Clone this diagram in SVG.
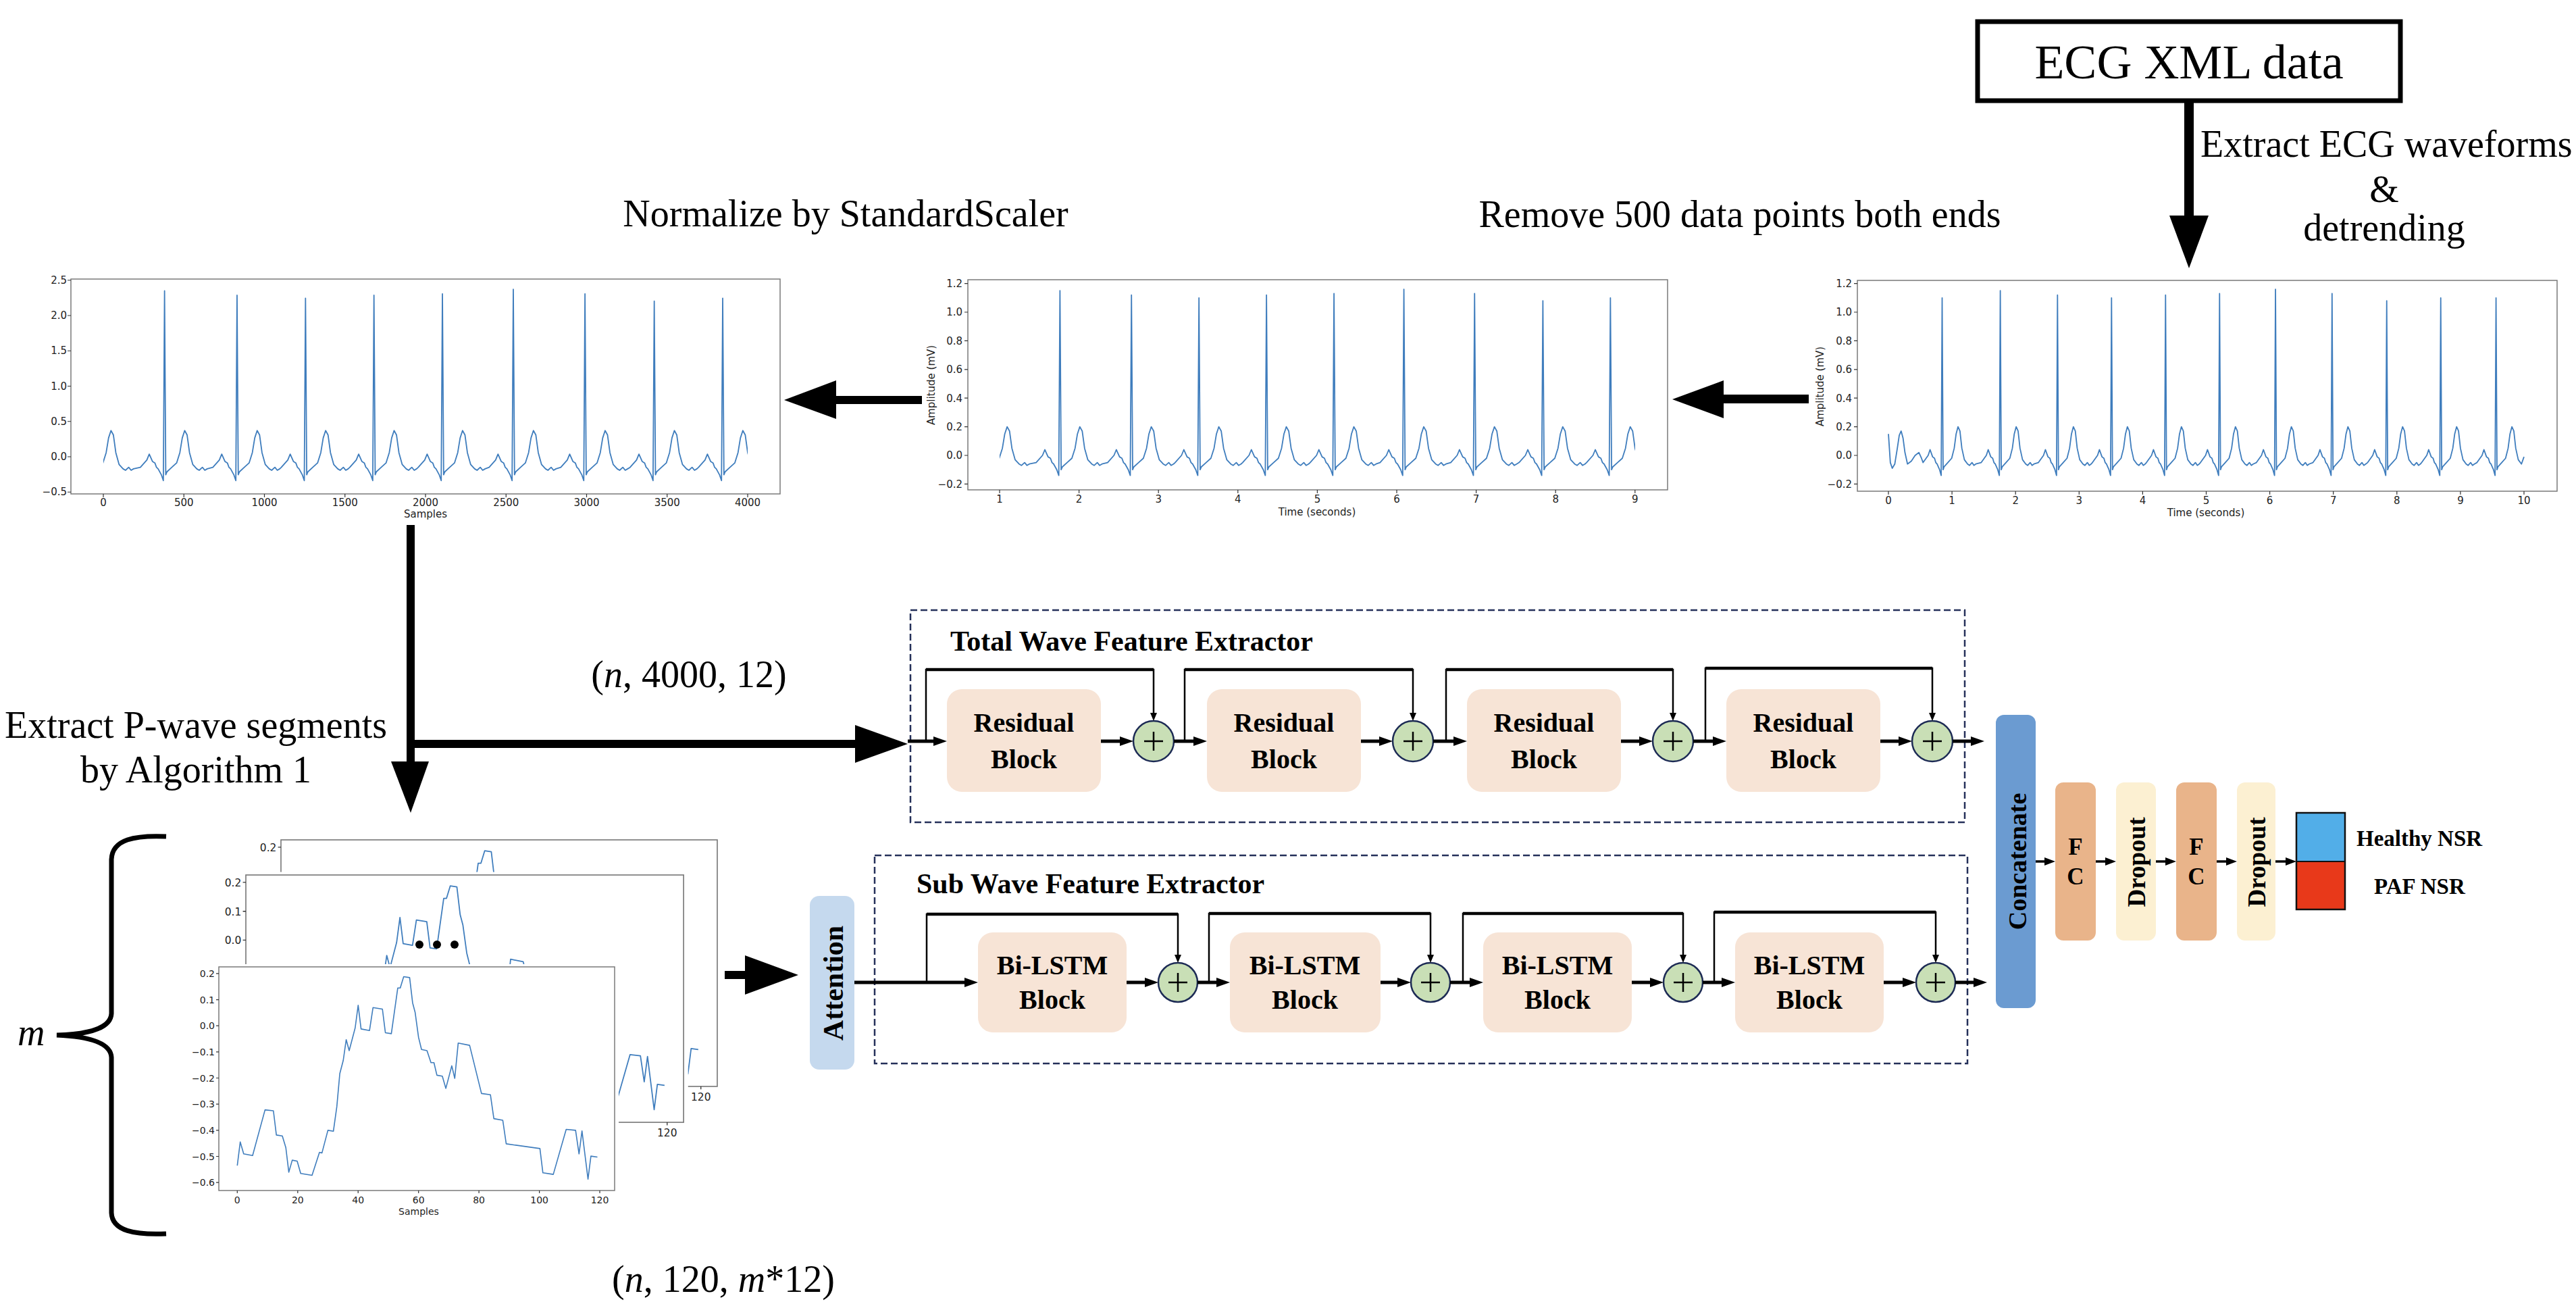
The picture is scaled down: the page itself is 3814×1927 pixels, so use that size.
<svg xmlns="http://www.w3.org/2000/svg" xmlns:xlink="http://www.w3.org/1999/xlink" width="3814" height="1927" viewBox="0 0 3814 1927">
<style>
.ann{font-family:'Liberation Serif','Times New Roman',serif;font-size:56px;fill:#000}
.bt{font-family:'Liberation Serif','Times New Roman',serif;font-weight:bold;fill:#000}
.tk{font-family:'DejaVu Sans',sans-serif;font-size:15px;fill:#222}
.tks{font-family:'DejaVu Sans',sans-serif;font-size:14px;fill:#222}
.ax{fill:none;stroke:#7a7a7a;stroke-width:1.5}
.tm{fill:none;stroke:#333;stroke-width:1.2}
.blk{fill:#f7e4d6}
.pc{fill:#c9dfb6;stroke:#1d2b55;stroke-width:2.5}
.pl{stroke:#000;stroke-width:2.5}
.dash{fill:none;stroke:#25305a;stroke-width:2.5;stroke-dasharray:10 5}
.ml{fill:none;stroke:#000;stroke-width:5}
.sk{fill:none;stroke:#000;stroke-width:2.5}
.skt{fill:none;stroke:#000;stroke-width:4.5}
.sm{fill:none;stroke:#000;stroke-width:3.5}
.big{fill:#000}
</style>
<defs>
<marker id="ah" markerUnits="userSpaceOnUse" viewBox="0 0 20 14" markerWidth="20" markerHeight="14" refX="0" refY="7" orient="auto"><path d="M0,0 L20,7 L0,14 z" fill="#000"/></marker>
<marker id="as" markerUnits="userSpaceOnUse" viewBox="0 0 12 10" markerWidth="12" markerHeight="10" refX="0" refY="5" orient="auto"><path d="M0,0 L12,5 L0,10 z" fill="#000"/></marker>
<marker id="am" markerUnits="userSpaceOnUse" viewBox="0 0 16 12" markerWidth="16" markerHeight="12" refX="0" refY="6" orient="auto"><path d="M0,0 L16,6 L0,12 z" fill="#000"/></marker>
<path id="ecg" fill="none" stroke="#3f7dbd" stroke-width="1.8" stroke-linejoin="round" vector-effect="non-scaling-stroke" d="M0,-15 L3,5 6,9 10,6 14,-5 17,-14 20,-17 23,-12 26,-2 30,6 36,4 42,0 48,-2 52,2 54.5,5
l8,-5 3,-4 4,5 3,1 2,3 2,1 4,4 2.5,4 1.5,-124 1.5,120 1.5,-2 6,-3 6,-3 4,-7 3,-10 3,-5 3,3 3,12 4,8 5,3 3,1 4,-2 3,2 3,-1 8.5,-1
l8,-5 3,-4 4,5 3,1 2,3 2,1 4,4 2.5,4 1.5,-129 1.5,125 1.5,-2 6,-3 6,-3 4,-7 3,-10 3,-5 3,3 3,12 4,8 5,3 3,1 4,-2 3,2 3,-1 7,-1
l8,-5 3,-4 4,5 3,1 2,3 2,1 4,4 2.5,4 1.5,-126 1.5,122 1.5,-2 6,-3 6,-3 4,-7 3,-10 3,-5 3,3 3,12 4,8 5,3 3,1 4,-2 3,2 3,-1 2,-1
l8,-5 3,-4 4,5 3,1 2,3 2,1 4,4 2.5,4 1.5,-124 1.5,120 1.5,-2 6,-3 6,-3 4,-7 3,-10 3,-5 3,3 3,12 4,8 5,3 3,1 4,-2 3,2 3,-1 2,-1
l8,-5 3,-4 4,5 3,1 2,3 2,1 4,4 2.5,4 1.5,-126 1.5,122 1.5,-2 6,-3 6,-3 4,-7 3,-10 3,-5 3,3 3,12 4,8 5,3 3,1 4,-2 3,2 3,-1 2,-1
l8,-5 3,-4 4,5 3,1 2,3 2,1 4,4 2.5,4 1.5,-127 1.5,123 1.5,-2 6,-3 6,-3 4,-7 3,-10 3,-5 3,3 3,12 4,8 5,3 3,1 4,-2 3,2 3,-1 5,-1
l8,-5 3,-4 4,5 3,1 2,3 2,1 4,4 2.5,4 1.5,-130 1.5,126 1.5,-2 6,-3 6,-3 4,-7 3,-10 3,-5 3,3 3,12 4,8 5,3 3,1 4,-2 3,2 3,-1 6,-1
l8,-5 3,-4 4,5 3,1 2,3 2,1 4,4 2.5,4 1.5,-127 1.5,123 1.5,-2 6,-3 6,-3 4,-7 3,-10 3,-5 3,3 3,12 4,8 5,3 3,1 4,-2 3,2 3,-1 3,-1
l8,-5 3,-4 4,5 3,1 2,3 2,1 4,4 2.5,4 1.5,-122 1.5,118 1.5,-2 6,-3 6,-3 4,-7 3,-10 3,-5 3,3 3,12 4,8 5,3 3,1 4,-2 3,2 3,-1 2,-1
l8,-5 3,-4 4,5 3,1 2,3 2,1 4,4 2.5,4 1.5,-124 1.5,120 1.5,-2 6,-3 6,-3 4,-7 3,-10 3,-5 3,3 3,12 4,8 5,3 3,1 4,-2 3,2 3,-1 4,-1
l8,-5 3,-4 4,5 3,1 2,3 2,1 4,4 2.5,4 1.5,-124 1.5,120 1.5,-2 6,-3 6,-3 4,-7 3,-10 3,-5 3,3 3,12 4,8 5,3 4,-5"/>
<clipPath id="cm" clipPathUnits="userSpaceOnUse"><rect x="1480" y="400" width="941" height="330"/></clipPath>
<clipPath id="cl" clipPathUnits="userSpaceOnUse"><rect x="153" y="400" width="954" height="330"/></clipPath>
<g id="pfig">
<rect x="282" y="1427" width="634" height="378" fill="#fff"/>
<rect class="ax" x="324" y="1431" width="586" height="331"/>
<path class="tm" d="M324,1440.9h-4M324,1479.6h-4M324,1518.2h-4M324,1556.9h-4M324,1595.5h-4M324,1634.2h-4M324,1672.8h-4M324,1711.5h-4M324,1750.1h-4M351.3,1762v4M440.8,1762v4M530.2,1762v4M619.7,1762v4M709.1,1762v4M798.6,1762v4M888,1762v4"/>
<g class="tks" text-anchor="end">
<text x="318" y="1446">0.2</text><text x="318" y="1485">0.1</text><text x="318" y="1523">0.0</text><text x="318" y="1562">−0.1</text><text x="318" y="1601">−0.2</text><text x="318" y="1639">−0.3</text><text x="318" y="1678">−0.4</text><text x="318" y="1717">−0.5</text><text x="318" y="1755">−0.6</text>
</g>
<g class="tks" text-anchor="middle">
<text x="351.3" y="1781">0</text><text x="440.8" y="1781">20</text><text x="530.2" y="1781">40</text><text x="619.7" y="1781">60</text><text x="709.1" y="1781">80</text><text x="798.6" y="1781">100</text><text x="888" y="1781">120</text>
<text x="620" y="1798">Samples</text>
</g>
<polyline fill="none" stroke="#3f7dbd" stroke-width="1.6" stroke-linejoin="round" points="351.3,1725.1 355.7,1690.1 360.8,1707.8 374,1710.2 392.4,1642.6 404.8,1644 409.2,1679.9 418,1681.3 423.2,1698.5 427.6,1734.9 432.7,1717.1 440,1718.5 445.2,1736.7 462,1739.5 473,1705.5 476.7,1706.4 485.5,1672.9 493.6,1674.3 498.7,1637.9 503.1,1589 508.2,1569.5 512.6,1538.7 517,1555 525.8,1521.5 530.3,1487.9 534.6,1522.9 547.1,1525.2 552.3,1491.2 566.2,1493.5 570.6,1528.5 579.4,1529.9 588.9,1462.3 592.6,1462.3 597.7,1445.5 606.5,1446.9 610.9,1484.2 614.6,1498.2 619.7,1535.4 624.1,1553.2 632.2,1555 638.1,1572.7 642.5,1572.7 646.9,1591.4 654.9,1592.8 660.1,1610.9 668.9,1577.4 673.3,1596 678.4,1543.8 695.3,1547.1 712.9,1618.4 726.1,1620.2 731.2,1655.6 744.4,1658 749.5,1692.9 799.4,1699.9 803.8,1735.8 819.2,1738.1 838.3,1671.5 852.2,1672.9 857.3,1707.8 861.7,1673.8 870.6,1745.1 874.9,1711.1 884.5,1712.5"/>
</g>
</defs>
<rect width="3814" height="1927" fill="#fff"/>

<!-- ECG XML data -->
<g id="ecg-xml">
<rect x="2928" y="32" width="626" height="117" fill="#fff" stroke="#000" stroke-width="7"/>
<text class="ann" x="3241" y="116" text-anchor="middle" style="font-size:72px">ECG XML data</text>
</g>

<!-- Raw ECG plot (right) -->
<g id="plot-raw">
<rect class="ax" x="2750" y="415" width="1036" height="312"/>
<path class="tm" d="M2750,419.6h-5M2750,462h-5M2750,504.4h-5M2750,546.8h-5M2750,589.2h-5M2750,631.6h-5M2750,674h-5M2750,716.4h-5M2796,727v5M2890.1,727v5M2984.2,727v5M3078.3,727v5M3172.4,727v5M3266.5,727v5M3360.6,727v5M3454.7,727v5M3548.8,727v5M3642.9,727v5M3737,727v5"/>
<g class="tk" text-anchor="end">
<text x="2742" y="425">1.2</text><text x="2742" y="467">1.0</text><text x="2742" y="510">0.8</text><text x="2742" y="552">0.6</text><text x="2742" y="595">0.4</text><text x="2742" y="637">0.2</text><text x="2742" y="679">0.0</text><text x="2742" y="722">−0.2</text>
</g>
<g class="tk" text-anchor="middle">
<text x="2796" y="746">0</text><text x="2890.1" y="746">1</text><text x="2984.2" y="746">2</text><text x="3078.3" y="746">3</text><text x="3172.4" y="746">4</text><text x="3266.5" y="746">5</text><text x="3360.6" y="746">6</text><text x="3454.7" y="746">7</text><text x="3548.8" y="746">8</text><text x="3642.9" y="746">9</text><text x="3737" y="746">10</text>
<text x="3266" y="764">Time (seconds)</text>
<text transform="translate(2700,572) rotate(-90)">Amplitude (mV)</text>
</g>
<use xlink:href="#ecg" href="#ecg" transform="translate(2796,674) scale(0.941,2.12)"/>
</g>

<!-- Trimmed ECG plot (middle) -->
<g id="plot-trim">
<rect class="ax" x="1433" y="414" width="1036" height="311"/>
<path class="tm" d="M1433,419.6h-5M1433,462h-5M1433,504.4h-5M1433,546.8h-5M1433,589.2h-5M1433,631.6h-5M1433,674h-5M1433,716.4h-5M1480,725v5M1597.6,725v5M1715.2,725v5M1832.8,725v5M1950.4,725v5M2068,725v5M2185.6,725v5M2303.2,725v5M2420.8,725v5"/>
<g class="tk" text-anchor="end">
<text x="1425" y="425">1.2</text><text x="1425" y="467">1.0</text><text x="1425" y="510">0.8</text><text x="1425" y="552">0.6</text><text x="1425" y="595">0.4</text><text x="1425" y="637">0.2</text><text x="1425" y="679">0.0</text><text x="1425" y="722">−0.2</text>
</g>
<g class="tk" text-anchor="middle">
<text x="1480" y="744">1</text><text x="1597.6" y="744">2</text><text x="1715.2" y="744">3</text><text x="1832.8" y="744">4</text><text x="1950.4" y="744">5</text><text x="2068" y="744">6</text><text x="2185.6" y="744">7</text><text x="2303.2" y="744">8</text><text x="2420.8" y="744">9</text>
<text x="1950" y="763">Time (seconds)</text>
<text transform="translate(1384,570) rotate(-90)">Amplitude (mV)</text>
</g>
<g clip-path="url(#cm)"><use xlink:href="#ecg" href="#ecg" transform="translate(1362.4,674) scale(1.176,2.12)"/></g>
</g>

<!-- Normalized plot (left) -->
<g id="plot-norm">
<rect class="ax" x="105" y="413" width="1050" height="318"/>
<path class="tm" d="M105,414.75h-5M105,467h-5M105,519.25h-5M105,571.5h-5M105,623.75h-5M105,676h-5M105,728.25h-5M153,731v5M272.25,731v5M391.5,731v5M510.75,731v5M630,731v5M749.25,731v5M868.5,731v5M987.75,731v5M1107,731v5"/>
<g class="tk" text-anchor="end">
<text x="99" y="420">2.5</text><text x="99" y="472">2.0</text><text x="99" y="524">1.5</text><text x="99" y="577">1.0</text><text x="99" y="629">0.5</text><text x="99" y="681">0.0</text><text x="99" y="733">−0.5</text>
</g>
<g class="tk" text-anchor="middle">
<text x="153" y="749">0</text><text x="272.25" y="749">500</text><text x="391.5" y="749">1000</text><text x="510.75" y="749">1500</text><text x="630" y="749">2000</text><text x="749.25" y="749">2500</text><text x="868.5" y="749">3000</text><text x="987.75" y="749">3500</text><text x="1107" y="749">4000</text>
<text x="630" y="766">Samples</text>
</g>
<g clip-path="url(#cl)"><use xlink:href="#ecg" href="#ecg" transform="translate(33.75,680.8) scale(1.1925,2.177)"/></g>
</g>

<!-- P-wave segment stack -->
<g id="pwave-stack">
<use xlink:href="#pfig" href="#pfig" transform="translate(58.8,-334.5) scale(1.1024)"/>
<use xlink:href="#pfig" href="#pfig" transform="translate(5.66,-287.7) scale(1.106)"/>
<circle cx="621" cy="1398" r="6" fill="#000"/>
<circle cx="647" cy="1398" r="6" fill="#000"/>
<circle cx="673" cy="1398" r="6" fill="#000"/>
<use xlink:href="#pfig" href="#pfig"/>
<path d="M246,1238 C200,1236 166,1242 165,1272 L165,1500 C164,1522 130,1531 84,1532 C130,1534 164,1543 165,1565 L165,1795 C166,1822 200,1828 246,1826" fill="none" stroke="#000" stroke-width="7"/>
<text class="ann" x="26" y="1547" font-style="italic">m</text>
</g>

<!-- Attention -->
<g id="attention">
<rect x="1199" y="1326" width="66" height="257" rx="14" fill="#c5d9ee"/>
<text class="bt" transform="translate(1248,1455) rotate(-90)" text-anchor="middle" style="font-size:42px">Attention</text>
</g>

<!-- Total Wave Feature Extractor -->
<g id="total-extractor">
<rect class="dash" x="1348" y="903" width="1561" height="314"/>
<text class="bt" x="1407" y="963" style="font-size:42px">Total Wave Feature Extractor</text>
<g id="res1"><rect class="blk" x="1402" y="1020" width="228" height="152" rx="22"/><text class="bt" x="1516" y="1083" text-anchor="middle" style="font-size:40px">Residual</text><text class="bt" x="1516" y="1137" text-anchor="middle" style="font-size:40px">Block</text></g>
<g id="res2"><rect class="blk" x="1787" y="1020" width="228" height="152" rx="22"/><text class="bt" x="1901" y="1083" text-anchor="middle" style="font-size:40px">Residual</text><text class="bt" x="1901" y="1137" text-anchor="middle" style="font-size:40px">Block</text></g>
<g id="res3"><rect class="blk" x="2172" y="1020" width="228" height="152" rx="22"/><text class="bt" x="2286" y="1083" text-anchor="middle" style="font-size:40px">Residual</text><text class="bt" x="2286" y="1137" text-anchor="middle" style="font-size:40px">Block</text></g>
<g id="res4"><rect class="blk" x="2556" y="1020" width="228" height="152" rx="22"/><text class="bt" x="2670" y="1083" text-anchor="middle" style="font-size:40px">Residual</text><text class="bt" x="2670" y="1137" text-anchor="middle" style="font-size:40px">Block</text></g>
<g id="add1"><circle class="pc" cx="1708" cy="1097" r="30"/><path class="pl" d="M1694,1097h28M1708,1083v28"/></g>
<g id="add2"><circle class="pc" cx="2092" cy="1097" r="30"/><path class="pl" d="M2078,1097h28M2092,1083v28"/></g>
<g id="add3"><circle class="pc" cx="2477" cy="1097" r="30"/><path class="pl" d="M2463,1097h28M2477,1083v28"/></g>
<g id="add4"><circle class="pc" cx="2861" cy="1097" r="30"/><path class="pl" d="M2847,1097h28M2861,1083v28"/></g>
</g>

<!-- Sub Wave Feature Extractor -->
<g id="sub-extractor">
<rect class="dash" x="1295" y="1266" width="1618" height="308"/>
<text class="bt" x="1357" y="1322" style="font-size:42px">Sub Wave Feature Extractor</text>
<g id="lstm1"><rect class="blk" x="1448" y="1380" width="220" height="148" rx="22"/><text class="bt" x="1558" y="1442" text-anchor="middle" style="font-size:40px">Bi-LSTM</text><text class="bt" x="1558" y="1493" text-anchor="middle" style="font-size:40px">Block</text></g>
<g id="lstm2"><rect class="blk" x="1821" y="1380" width="223" height="148" rx="22"/><text class="bt" x="1932" y="1442" text-anchor="middle" style="font-size:40px">Bi-LSTM</text><text class="bt" x="1932" y="1493" text-anchor="middle" style="font-size:40px">Block</text></g>
<g id="lstm3"><rect class="blk" x="2196" y="1380" width="220" height="148" rx="22"/><text class="bt" x="2306" y="1442" text-anchor="middle" style="font-size:40px">Bi-LSTM</text><text class="bt" x="2306" y="1493" text-anchor="middle" style="font-size:40px">Block</text></g>
<g id="lstm4"><rect class="blk" x="2569" y="1380" width="220" height="148" rx="22"/><text class="bt" x="2679" y="1442" text-anchor="middle" style="font-size:40px">Bi-LSTM</text><text class="bt" x="2679" y="1493" text-anchor="middle" style="font-size:40px">Block</text></g>
<g id="add5"><circle class="pc" cx="1744" cy="1454" r="29"/><path class="pl" d="M1730,1454h28M1744,1440v28"/></g>
<g id="add6"><circle class="pc" cx="2118" cy="1454" r="29"/><path class="pl" d="M2104,1454h28M2118,1440v28"/></g>
<g id="add7"><circle class="pc" cx="2492" cy="1454" r="29"/><path class="pl" d="M2478,1454h28M2492,1440v28"/></g>
<g id="add8"><circle class="pc" cx="2866" cy="1454" r="29"/><path class="pl" d="M2852,1454h28M2866,1440v28"/></g>
</g>

<!-- Classifier head -->
<g id="concatenate">
<rect x="2955" y="1058" width="59" height="434" rx="12" fill="#6b9bd1"/>
<text class="bt" transform="translate(3000,1275) rotate(-90)" text-anchor="middle" style="font-size:38px">Concatenate</text>
</g>
<g id="fc1"><rect x="3043" y="1158" width="60" height="234" rx="12" fill="#e9b48a"/><text class="bt" x="3073" y="1265" text-anchor="middle" style="font-size:35px">F</text><text class="bt" x="3073" y="1309" text-anchor="middle" style="font-size:35px">C</text></g>
<g id="dropout1"><rect x="3133" y="1158" width="59" height="234" rx="12" fill="#fcf0d2"/><text class="bt" transform="translate(3176,1276) rotate(-90)" text-anchor="middle" style="font-size:37px">Dropout</text></g>
<g id="fc2"><rect x="3222" y="1158" width="60" height="234" rx="12" fill="#e9b48a"/><text class="bt" x="3252" y="1265" text-anchor="middle" style="font-size:35px">F</text><text class="bt" x="3252" y="1309" text-anchor="middle" style="font-size:35px">C</text></g>
<g id="dropout2"><rect x="3312" y="1158" width="57" height="234" rx="12" fill="#fcf0d2"/><text class="bt" transform="translate(3354,1276) rotate(-90)" text-anchor="middle" style="font-size:37px">Dropout</text></g>
<g id="output">
<rect x="3400" y="1203" width="72" height="72" fill="#52aee8"/>
<rect x="3400" y="1275" width="72" height="71" fill="#e8391a"/>
<rect x="3400" y="1203" width="72" height="143" fill="none" stroke="#111" stroke-width="2.5"/>
<line x1="3400" y1="1275" x2="3472" y2="1275" stroke="#111" stroke-width="2"/>
<text class="bt" x="3489" y="1252" style="font-size:33px">Healthy NSR</text>
<text class="bt" x="3515" y="1323" style="font-size:33px">PAF NSR</text>
</g>

<!-- Connectors -->
<g id="connectors">
<!-- big pipeline arrows -->
<rect class="big" x="3234" y="150" width="14" height="170"/>
<polygon class="big" points="3212,319 3270,319 3241,397"/>
<rect class="big" x="2552" y="584" width="126" height="13"/>
<polygon class="big" points="2552,563 2552,619 2476,591"/>
<rect class="big" x="1238" y="586" width="127" height="12"/>
<polygon class="big" points="1238,563 1238,620 1161,592"/>
<rect class="big" x="602" y="777" width="12" height="351"/>
<polygon class="big" points="579,1127 635,1127 608,1203"/>
<rect class="big" x="602" y="1095" width="665" height="12"/>
<polygon class="big" points="1266,1073 1266,1129 1344,1101"/>
<rect class="big" x="1073" y="1437" width="31" height="12"/>
<polygon class="big" points="1103,1414 1103,1472 1182,1443"/>
<!-- total wave main line -->
<g marker-end="url(#ah)">
<line class="ml" x1="1344" y1="1097" x2="1382" y2="1097"/>
<line class="ml" x1="1630" y1="1097" x2="1658" y2="1097"/>
<line class="ml" x1="1738" y1="1097" x2="1767" y2="1097"/>
<line class="ml" x1="2015" y1="1097" x2="2042" y2="1097"/>
<line class="ml" x1="2122" y1="1097" x2="2152" y2="1097"/>
<line class="ml" x1="2400" y1="1097" x2="2427" y2="1097"/>
<line class="ml" x1="2507" y1="1097" x2="2536" y2="1097"/>
<line class="ml" x1="2784" y1="1097" x2="2811" y2="1097"/>
<line class="ml" x1="2891" y1="1097" x2="2918" y2="1097"/>
</g>
<g marker-end="url(#as)">
<path class="sk" d="M1371,1097V991H1708V1055"/>
<path class="sk" d="M1754,1097V991H2092V1055"/>
<path class="sk" d="M2141,1097V991H2477V1055"/>
<path class="sk" d="M2525,1097V989H2861V1055"/>
</g>
<path class="skt" d="M1371,991H1708M1754,991H2092M2141,991H2477M2525,989H2861"/>
<!-- sub wave main line -->
<g marker-end="url(#ah)">
<line class="ml" x1="1265" y1="1454" x2="1428" y2="1454"/>
<line class="ml" x1="1668" y1="1454" x2="1695" y2="1454"/>
<line class="ml" x1="1773" y1="1454" x2="1801" y2="1454"/>
<line class="ml" x1="2044" y1="1454" x2="2069" y2="1454"/>
<line class="ml" x1="2147" y1="1454" x2="2176" y2="1454"/>
<line class="ml" x1="2416" y1="1454" x2="2443" y2="1454"/>
<line class="ml" x1="2521" y1="1454" x2="2549" y2="1454"/>
<line class="ml" x1="2789" y1="1454" x2="2817" y2="1454"/>
<line class="ml" x1="2895" y1="1454" x2="2922" y2="1454"/>
</g>
<g marker-end="url(#as)">
<path class="sk" d="M1372,1454V1353H1744V1413"/>
<path class="sk" d="M1790,1454V1352H2118V1413"/>
<path class="sk" d="M2166,1454V1352H2492V1413"/>
<path class="sk" d="M2538,1454V1350H2866V1413"/>
</g>
<path class="skt" d="M1372,1353H1744M1790,1352H2118M2166,1352H2492M2538,1350H2866"/>
<!-- head -->
<g marker-end="url(#am)">
<line class="sm" x1="3014" y1="1275" x2="3027" y2="1275"/>
<line class="sm" x1="3103" y1="1275" x2="3117" y2="1275"/>
<line class="sm" x1="3192" y1="1275" x2="3206" y2="1275"/>
<line class="sm" x1="3282" y1="1275" x2="3296" y2="1275"/>
<line class="sm" x1="3369" y1="1275" x2="3384" y2="1275"/>
</g>
</g>

<!-- Labels -->
<g id="labels">
<text class="ann" x="3258" y="232">Extract ECG waveforms</text>
<text class="ann" x="3530" y="299" text-anchor="middle">&amp;</text>
<text class="ann" x="3530" y="356" text-anchor="middle">detrending</text>
<text class="ann" x="2576" y="336" text-anchor="middle">Remove 500 data points both ends</text>
<text class="ann" x="1252" y="335" text-anchor="middle">Normalize by StandardScaler</text>
<text class="ann" x="1020" y="1017" text-anchor="middle">(<tspan font-style="italic">n</tspan>, 4000, 12)</text>
<text class="ann" x="290" y="1092" text-anchor="middle">Extract P-wave segments</text>
<text class="ann" x="290" y="1158" text-anchor="middle">by Algorithm 1</text>
<text class="ann" x="1071" y="1912" text-anchor="middle">(<tspan font-style="italic">n</tspan>, 120, <tspan font-style="italic">m</tspan>*12)</text>
</g>
</svg>
